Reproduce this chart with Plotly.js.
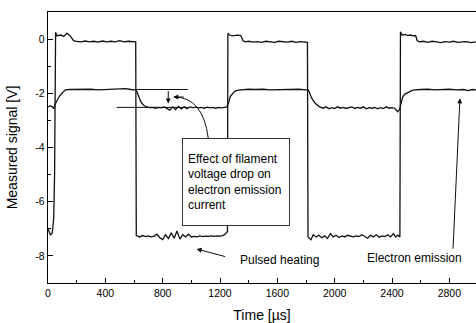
<!DOCTYPE html>
<html>
<head>
<meta charset="utf-8">
<script src="https://cdn.plot.ly/plotly-3.0.1.min.js"></script>
<style>html,body{margin:0;padding:0;background:#fff;}#chart{width:476px;height:323px;}</style>
</head>
<body>
<div id="chart"></div>
<script>
// Pulsed heating signal
const heatX = [0, 16, 30, 40, 46, 50, 53, 62, 90, 110, 132, 155, 178, 200, 230, 260, 290, 320, 350, 380, 410, 440, 470, 500, 530, 560, 590, 612,
  616, 640, 660, 680, 700, 720, 740, 760, 780, 800, 820, 840, 860, 880, 900, 920, 940, 960, 980, 1000, 1020, 1040, 1060, 1080, 1100, 1120, 1140, 1160, 1180, 1200, 1220, 1240, 1252,
  1255, 1265, 1290, 1320, 1345, 1360, 1375, 1400, 1430, 1460, 1490, 1520, 1550, 1580, 1610, 1640, 1670, 1700, 1730, 1760, 1790, 1810,
  1814, 1835, 1850, 1870, 1890, 1910, 1930, 1950, 1970, 1990, 2010, 2030, 2050, 2070, 2090, 2110, 2130, 2150, 2170, 2190, 2210, 2230, 2250, 2270, 2290, 2310, 2330, 2350, 2370, 2390, 2410, 2425, 2440, 2455,
  2459, 2470, 2490, 2510, 2530, 2550, 2565, 2575, 2590, 2620, 2650, 2680, 2710, 2740, 2770, 2800, 2830, 2860, 2890, 2920, 2950, 2986];
const heatY = [-7.0, -7.22, -7.15, -6.6, -5.0, -1.0, 0.25, 0.12, 0.15, 0.1, 0.22, 0.12, -0.06, -0.08, -0.1, -0.07, -0.1, -0.08, -0.11, -0.07, -0.1, -0.08, -0.1, -0.06, -0.1, -0.08, -0.09, -0.1,
  -7.25, -7.3, -7.25, -7.29, -7.26, -7.3, -7.27, -7.2, -7.33, -7.4, -7.22, -7.36, -7.15, -7.35, -7.08, -7.38, -7.22, -7.3, -7.2, -7.3, -7.28, -7.3, -7.26, -7.29, -7.27, -7.28, -7.26, -7.28, -7.26, -7.27, -7.25, -7.18, -7.1,
  0.22, 0.15, 0.12, 0.15, 0.13, -0.05, -0.1, -0.08, -0.11, -0.09, -0.12, -0.08, -0.1, -0.12, -0.08, -0.1, -0.11, -0.08, -0.12, -0.09, -0.1, -0.12,
  -7.3, -7.4, -7.22, -7.3, -7.24, -7.33, -7.26, -7.36, -7.18, -7.3, -7.24, -7.32, -7.26, -7.3, -7.24, -7.28, -7.3, -7.26, -7.29, -7.22, -7.3, -7.35, -7.24, -7.3, -7.22, -7.31, -7.26, -7.29, -7.22, -7.3, -7.18, -7.3, -7.23, -7.3,
  0.27, 0.15, 0.17, 0.13, 0.15, 0.12, 0.13, -0.05, -0.1, -0.08, -0.12, -0.08, -0.1, -0.13, -0.09, -0.11, -0.08, -0.12, -0.1, -0.09, -0.13, -0.1];

// Electron emission signal
const emisX = [0, 16, 30, 40, 50, 63, 80, 98, 110, 121, 150, 200, 250, 300, 350, 400, 450, 500, 540, 580, 614,
  625, 632, 645, 655, 670, 690, 710, 730, 750, 770, 790, 810, 830, 850, 870, 890, 910, 930, 950, 970, 990, 1010, 1030, 1050, 1070, 1090, 1110, 1130, 1150, 1170, 1190, 1210, 1230, 1248,
  1260, 1271, 1290, 1306, 1329, 1360, 1400, 1450, 1500, 1550, 1600, 1650, 1700, 1750, 1800, 1817,
  1830, 1841, 1864, 1894, 1920, 1940, 1960, 1980, 2000, 2020, 2040, 2060, 2080, 2100, 2120, 2140, 2160, 2180, 2200, 2220, 2240, 2260, 2280, 2300, 2320, 2340, 2360, 2380, 2400, 2420, 2440, 2452,
  2465, 2475, 2490, 2510, 2545, 2600, 2650, 2700, 2750, 2800, 2850, 2900, 2930, 2960, 2986];
const emisY = [-2.5, -2.46, -2.5, -2.56, -2.4, -2.25, -2.1, -2.0, -1.92, -1.87, -1.86, -1.85, -1.86, -1.85, -1.87, -1.86, -1.85, -1.86, -1.83, -1.86, -1.87,
  -2.0, -2.13, -2.28, -2.37, -2.45, -2.5, -2.53, -2.52, -2.55, -2.52, -2.54, -2.5, -2.56, -2.62, -2.5, -2.6, -2.48, -2.58, -2.5, -2.57, -2.5, -2.53, -2.51, -2.54, -2.52, -2.55, -2.51, -2.54, -2.52, -2.55, -2.52, -2.54, -2.52, -2.5,
  -2.35, -2.13, -2.0, -1.92, -1.88, -1.86, -1.85, -1.86, -1.85, -1.87, -1.86, -1.85, -1.86, -1.85, -1.87, -1.88,
  -2.05, -2.19, -2.37, -2.5, -2.55, -2.5, -2.57, -2.53, -2.56, -2.5, -2.55, -2.52, -2.56, -2.53, -2.5, -2.56, -2.52, -2.55, -2.5, -2.57, -2.53, -2.55, -2.52, -2.57, -2.53, -2.56, -2.5, -2.55, -2.53, -2.56, -2.68, -2.6,
  -2.35, -2.13, -2.03, -1.98, -1.88, -1.86, -1.85, -1.87, -1.86, -1.85, -1.87, -1.86, -1.9, -1.86, -1.87];

const xTickVals = [0, 400, 800, 1200, 1600, 2000, 2400, 2800];
const xTickText = ["0", "400", "800", "1200", "1600", "2000", "2400", "2800"];
const yTickVals = [0, -2, -4, -6, -8];
const yTickText = ["0", "-2", "-4", "-6", "-8"];

const lineStyle = {color: '#111', width: 1.3};
const traces = [
  {x: heatX, y: heatY, mode: 'lines', line: lineStyle, name: 'Pulsed heating', hoverinfo: 'skip'},
  {x: emisX, y: emisY, mode: 'lines', line: lineStyle, name: 'Electron emission', hoverinfo: 'skip'}
];

const font = {family: '"Liberation Sans", Arial, sans-serif', color: '#000'};

const layout = {
  width: 476, height: 323,
  margin: {l: 48, r: 0, t: 12, b: 40},
  paper_bgcolor: '#fff', plot_bgcolor: '#fff',
  showlegend: false,
  font: Object.assign({size: 12}, font),
  xaxis: {
    range: [0, 2986], showgrid: false, zeroline: false,
    showline: true, linecolor: '#000', linewidth: 1.2, mirror: true,
    ticks: 'inside', ticklen: 5, tickwidth: 1, tickcolor: '#000',
    tickmode: 'array', tickvals: xTickVals, ticktext: xTickText,
    minor: {ticks: 'inside', dtick: 200, tick0: 0, ticklen: 3, tickwidth: 1, tickcolor: '#000', showgrid: false},
    tickfont: Object.assign({size: 10.5}, font),
    title: {text: 'Time [µs]', font: Object.assign({size: 14}, font), standoff: 13}
  },
  yaxis: {
    range: [-9, 1], showgrid: false, zeroline: false,
    showline: true, linecolor: '#000', linewidth: 1.2,
    ticks: 'inside', ticklen: 5, tickwidth: 1, tickcolor: '#000',
    tickmode: 'array', tickvals: yTickVals, ticktext: yTickText,
    minor: {ticks: 'inside', dtick: 1, tick0: 1, ticklen: 3, tickwidth: 1, tickcolor: '#000', showgrid: false},
    tickfont: Object.assign({size: 10.5}, font),
    title: {text: 'Measured signal [V]', font: Object.assign({size: 14}, font), standoff: 14}
  },
  shapes: [
    {type: 'line', xref: 'x', yref: 'y', x0: 619, x1: 975, y0: -1.86, y1: -1.86, line: {color: '#111', width: 1}},
    {type: 'line', xref: 'x', yref: 'y', x0: 479, x1: 975, y0: -2.52, y1: -2.52, line: {color: '#111', width: 1}},
    {type: 'path', xref: 'x', yref: 'y', path: 'M 1118,-3.65 Q 1081,-2.137 879,-2.137', line: {color: '#111', width: 1}}
  ],
  annotations: [
    {xref: 'x', yref: 'y', x: 933, y: -3.66, xanchor: 'left', yanchor: 'top',
     text: 'Effect of filament<br>voltage drop on<br>electron emission<br>current',
     align: 'left', showarrow: false, bgcolor: '#fff', bordercolor: '#333', borderwidth: 1,
     borderpad: 5, width: 96, height: 76, valign: 'middle', font: Object.assign({size: 12}, font)},
    {xref: 'x', yref: 'y', x: 839, y: -2.38, axref: 'x', ayref: 'y', ax: 839, ay: -1.86, text: '',
     showarrow: true, arrowhead: 2, arrowsize: 1, arrowwidth: 1, arrowcolor: '#111'},
    {xref: 'x', yref: 'y', x: 874, y: -2.137, ax: 12, ay: 0, text: '',
     showarrow: true, arrowhead: 2, arrowsize: 1, arrowwidth: 1, arrowcolor: '#111'},
    {xref: 'x', yref: 'y', x: 1037, y: -7.745, ax: 30, ay: 8, text: '',
     showarrow: true, arrowhead: 2, arrowsize: 1, arrowwidth: 1, arrowcolor: '#111'},
    {xref: 'x', yref: 'y', x: 1326, y: -8.15, xanchor: 'left', text: 'Pulsed heating', showarrow: false,
     font: Object.assign({size: 12}, font)},
    {xref: 'x', yref: 'y', x: 2874, y: -2.185, ax: -7, ay: 152, text: '',
     showarrow: true, arrowhead: 2, arrowsize: 1, arrowwidth: 1, arrowcolor: '#111'},
    {xref: 'x', yref: 'y', x: 2555, y: -8.07, xanchor: 'center', text: 'Electron emission', showarrow: false,
     font: Object.assign({size: 12}, font)}
  ]
};

Plotly.newPlot('chart', traces, layout, {staticPlot: true, displayModeBar: false});
</script>
</body>
</html>
